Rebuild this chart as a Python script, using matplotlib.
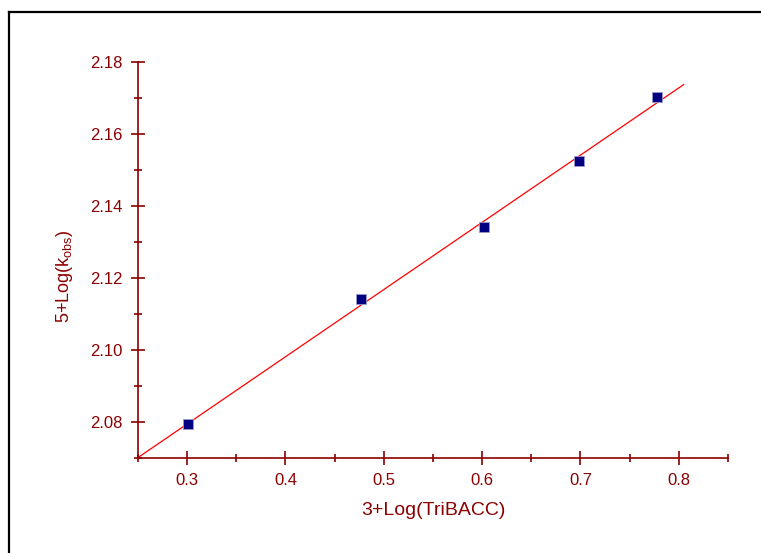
import numpy as np
import matplotlib.pyplot as plt
from matplotlib.lines import Line2D
from matplotlib.ticker import MultipleLocator

plt.rcParams['font.family'] = ['Liberation Sans', 'DejaVu Sans']

# data
log_tribacc = [0.301, 0.477, 0.602, 0.699, 0.778]
log_kobs = [2.0794, 2.1142, 2.1342, 2.1525, 2.1703]
fit_range = [0.25, 0.805]

dark_red = '#8b0000'

fig = plt.figure(figsize=(7.61, 5.53), dpi=100)
ax = fig.add_axes([0.1813, 0.1718, 0.7753, 0.7161])

# least squares line
slope, icpt = np.polyfit(log_tribacc, log_kobs, 1)
xf = np.array(fit_range)
ax.plot(xf, slope * xf + icpt, color='red', lw=0.9, zorder=2)

ax.plot(log_tribacc, log_kobs, ls='none', marker='s', ms=6.5,
        mfc='#000080', mec='#9a9ad0', mew=0.6, zorder=3)

ax.set_xlim(0.25, 0.85)
ax.set_ylim(2.07, 2.18)
ax.xaxis.set_minor_locator(MultipleLocator(0.05))
ax.yaxis.set_minor_locator(MultipleLocator(0.01))
ax.set_xticks([0.3, 0.4, 0.5, 0.6, 0.7, 0.8])
ax.set_xticklabels(['0.3', '0.4', '0.5', '0.6', '0.7', '0.8'])
ax.set_yticks([2.08, 2.10, 2.12, 2.14, 2.16, 2.18])
ax.set_yticklabels(['2.08', '2.10', '2.12', '2.14', '2.16', '2.18'])

for s in ['top', 'right']:
    ax.spines[s].set_visible(False)
for s in ['left', 'bottom']:
    ax.spines[s].set_color(dark_red)
    ax.spines[s].set_linewidth(1.2)

ax.tick_params(which='major', direction='inout', length=10, width=1.2,
               color=dark_red, labelcolor=dark_red, labelsize=12, pad=6)
ax.tick_params(which='minor', direction='inout', length=6, width=1.2,
               color=dark_red)

ax.set_xlabel('3+Log(TriBACC)', color=dark_red, fontsize=14, labelpad=10)
ax.set_ylabel(r'5+Log(k$_{\mathregular{obs}}$)', color=dark_red,
              fontsize=13)
ax.yaxis.set_label_coords(-0.107, 0.46)

# outer frame (left and top only)
fig.add_artist(Line2D([8.5 / 761, 8.5 / 761], [0, 541 / 553],
                      color='black', lw=1.6, transform=fig.transFigure))
fig.add_artist(Line2D([8.5 / 761, 1], [541 / 553, 541 / 553],
                      color='black', lw=1.6, transform=fig.transFigure))

fig.savefig('out.png', dpi=100)
